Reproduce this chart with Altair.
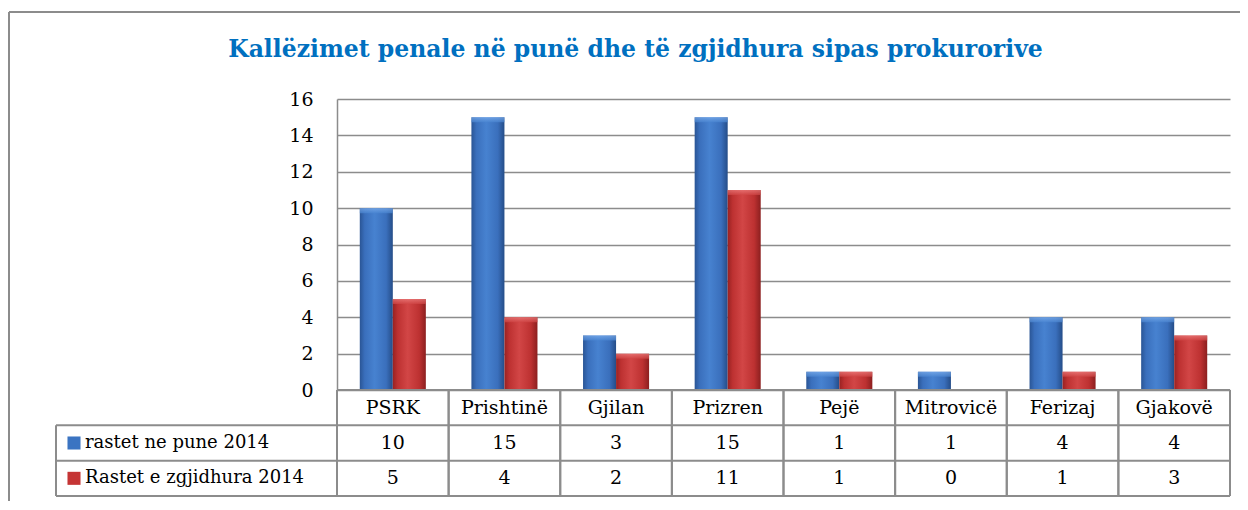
import altair as alt
import pandas as pd

categories = ["PSRK", "Prishtinë", "Gjilan", "Prizren", "Pejë", "Mitrovicë", "Ferizaj", "Gjakovë"]
series_names = ["rastet ne pune 2014", "Rastet e zgjidhura 2014"]
rastet_ne_pune = [10, 15, 3, 15, 1, 1, 4, 4]
rastet_zgjidhura = [5, 4, 2, 11, 1, 0, 1, 3]
y_ticks = [0, 2, 4, 6, 8, 10, 12, 14, 16]
title_text = "Kallëzimet penale në punë dhe të zgjidhura sipas prokurorive"

W, H = 893, 291
FONT = "DejaVu Serif"
GRID = "#8c8c8c"
BLUE = "#3b74c2"
RED = "#c53535"

rows = []
for c, a, b in zip(categories, rastet_ne_pune, rastet_zgjidhura):
    rows.append({"cat": c, "series": series_names[0], "value": a, "row": 1.5})
    rows.append({"cat": c, "series": series_names[1], "value": b, "row": 2.5})
bars_df = pd.DataFrame(rows)
cat_df = pd.DataFrame({"cat": categories, "row": [0.5] * len(categories),
                       "top": [0] * len(categories), "bottom": [3] * len(categories)})
legend_df = pd.DataFrame({"series": series_names, "row": [1.5, 2.5]})
edges_df = pd.DataFrame({"edge": [1, 2, 3]})
edge0_df = pd.DataFrame({"edge": [0]})
left_df = pd.DataFrame({"top": [1], "bottom": [3]})
title_df = pd.DataFrame({"t": [title_text]})

x_scale = alt.Scale(domain=categories, paddingInner=0, paddingOuter=0)
y_scale = alt.Scale(domain=[0, 16])
t_scale = alt.Scale(domain=[0, 3], range=[291, 397])
off_scale = alt.Scale(domain=series_names, paddingInner=0, paddingOuter=0.69)

def grad(stops):
    return alt.Gradient(gradient="linear", x1=0, x2=1, y1=0, y2=0,
                        stops=[alt.GradientStop(color=c, offset=o) for o, c in stops])

def vgrad(c1, c2):
    return alt.Gradient(gradient="linear", x1=0, x2=0, y1=0, y2=1,
                        stops=[alt.GradientStop(color=c1, offset=0), alt.GradientStop(color=c2, offset=1)])

blue_grad = grad([(0, "#2a5595"), (0.15, "#3a6fbc"), (0.45, "#4782d0"), (0.8, "#3a6fbc"), (1, "#254d88")])
red_grad = grad([(0, "#982222"), (0.15, "#bd3131"), (0.45, "#d24646"), (0.8, "#bd3131"), (1, "#8c1f1f")])

base_bars = alt.Chart(bars_df)

blue_bars = base_bars.transform_filter(alt.datum.series == series_names[0]).mark_bar(
    color=blue_grad
).encode(
    x=alt.X("cat:N", scale=x_scale, sort=categories, axis=None),
    xOffset=alt.XOffset("series:N", scale=off_scale, sort=series_names),
    y=alt.Y("value:Q", scale=y_scale, axis=alt.Axis(
        values=y_ticks, grid=True, gridColor=GRID, gridWidth=1.5,
        domainColor=GRID, domainWidth=1.5, ticks=False, labelPadding=24,
        labelFont=FONT, labelFontSize=19, labelColor="#000000", title=None)),
)

red_bars = base_bars.transform_filter(alt.datum.series == series_names[1]).mark_bar(
    color=red_grad
).encode(
    x=alt.X("cat:N", sort=categories, axis=None),
    xOffset=alt.XOffset("series:N", sort=series_names),
    y=alt.Y("value:Q", scale=y_scale, axis=None),
)

blue_top = base_bars.transform_filter(
    (alt.datum.series == series_names[0]) & (alt.datum.value > 0)
).mark_tick(orient="horizontal", thickness=5, size=33, yOffset=2.5,
            color=vgrad("#7fb0ee", "#4a86d2")).encode(
    x=alt.X("cat:N", sort=categories, axis=None),
    xOffset=alt.XOffset("series:N", sort=series_names),
    y=alt.Y("value:Q", scale=y_scale, axis=None),
)

red_top = base_bars.transform_filter(
    (alt.datum.series == series_names[1]) & (alt.datum.value > 0)
).mark_tick(orient="horizontal", thickness=5, size=33, yOffset=2.5,
            color=vgrad("#ee8080", "#d04545")).encode(
    x=alt.X("cat:N", sort=categories, axis=None),
    xOffset=alt.XOffset("series:N", sort=series_names),
    y=alt.Y("value:Q", scale=y_scale, axis=None),
)

vlines0 = alt.Chart(cat_df).mark_rule(color=GRID, strokeWidth=2).encode(
    x=alt.X("cat:N", sort=categories, bandPosition=0, axis=None),
    y=alt.Y("top:Q", scale=t_scale, axis=None),
    y2="bottom:Q",
)
vlines1 = alt.Chart(cat_df).mark_rule(color=GRID, strokeWidth=2).encode(
    x=alt.X("cat:N", sort=categories, bandPosition=1, axis=None),
    y=alt.Y("top:Q", scale=t_scale, axis=None),
    y2="bottom:Q",
)
vleft = alt.Chart(left_df).mark_rule(color=GRID, strokeWidth=2).encode(
    x=alt.value(-281),
    y=alt.Y("top:Q", scale=t_scale, axis=None),
    y2="bottom:Q",
)
hlines = alt.Chart(edges_df).mark_rule(color=GRID, strokeWidth=2).encode(
    x=alt.value(-281), x2=alt.value(W),
    y=alt.Y("edge:Q", scale=t_scale, axis=None),
)
hline0 = alt.Chart(edge0_df).mark_rule(color=GRID, strokeWidth=2).encode(
    x=alt.value(0), x2=alt.value(W),
    y=alt.Y("edge:Q", scale=t_scale, axis=None),
)

cat_text = alt.Chart(cat_df).mark_text(font=FONT, fontSize=19, color="#000000", baseline="middle").encode(
    x=alt.X("cat:N", sort=categories, axis=None),
    y=alt.Y("row:Q", scale=t_scale, axis=None),
    text="cat:N",
)
val_text = alt.Chart(bars_df).mark_text(font=FONT, fontSize=19, color="#000000", baseline="middle").encode(
    x=alt.X("cat:N", sort=categories, axis=None),
    y=alt.Y("row:Q", scale=t_scale, axis=None),
    text="value:Q",
)
legend_sq = alt.Chart(legend_df).mark_square(size=170, opacity=1, filled=True).encode(
    x=alt.value(-263),
    y=alt.Y("row:Q", scale=t_scale, axis=None),
    color=alt.Color("series:N", scale=alt.Scale(domain=series_names, range=[BLUE, RED]), legend=None),
)
legend_txt = alt.Chart(legend_df).mark_text(font=FONT, fontSize=18, color="#000000", align="left",
                                             baseline="middle").encode(
    x=alt.value(-252),
    y=alt.Y("row:Q", scale=t_scale, axis=None),
    text="series:N",
)

title = alt.Chart(title_df).mark_text(font=FONT, fontSize=23.5, fontWeight="bold", color="#0070C0",
                                       align="center", baseline="middle").encode(
    x=alt.value(298.5), y=alt.value(-49), text="t:N",
)
border_top = alt.Chart(title_df).mark_rule(color=GRID, strokeWidth=2).encode(
    x=alt.value(-328), x2=alt.value(911), y=alt.value(-87),
)
border_left = alt.Chart(title_df).mark_rule(color=GRID, strokeWidth=2).encode(
    x=alt.value(-328), y=alt.value(-87), y2=alt.value(411),
)

chart = alt.layer(
    blue_bars, red_bars, blue_top, red_top,
    vlines0, vlines1, vleft, hlines, hline0,
    cat_text, val_text, legend_sq, legend_txt,
    title, border_top, border_left,
).resolve_scale(y="independent").properties(
    width=W, height=H,
    autosize=alt.AutoSizeParams(type="none"),
    padding={"left": 329, "top": 91, "right": 10, "bottom": 111},
    background="white",
).configure_view(stroke="transparent")

chart.save("out.html", embed_options={"renderer": "svg", "actions": False})
